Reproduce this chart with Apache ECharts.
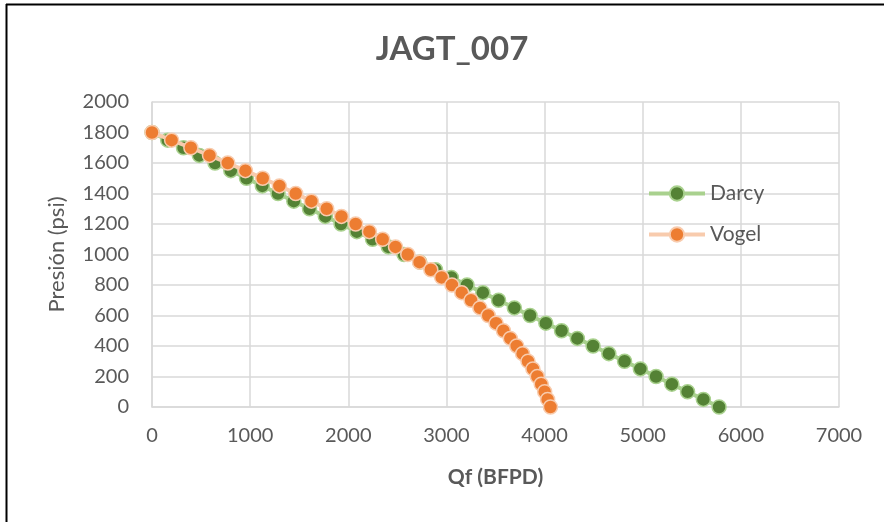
<!DOCTYPE html>
<html>
<head>
<meta charset="utf-8">
<script src="https://cdn.jsdelivr.net/npm/echarts@6/dist/echarts.min.js"></script>
<style>
html,body{margin:0;padding:0;background:#fff;}
#c{width:884px;height:522px;}
</style>
</head>
<body>
<div id="c"></div>
<script>
var titleText = 'JAGT_007';
var xName = 'Qf (BFPD)';
var yName = 'Presión (psi)';
var seriesNames = ['Darcy', 'Vogel'];
var pressure = [1800,1750,1700,1650,1600,1550,1500,1450,1400,1350,1300,1250,1200,1150,1100,1050,1000,950,900,850,800,750,700,650,600,550,500,450,400,350,300,250,200,150,100,50,0];
var darcyQ = [0,160,321,482,642,803,963,1124,1284,1445,1605,1766,1926,2087,2247,2408,2568,2729,2889,3050,3210,3371,3531,3692,3852,4013,4173,4334,4494,4655,4815,4976,5136,5297,5457,5618,5778];
var vogelQ = [0,200,396,586,772,952,1128,1298,1464,1624,1780,1930,2075,2215,2350,2481,2606,2726,2841,2951,3056,3156,3251,3341,3426,3506,3581,3651,3716,3776,3831,3881,3926,3966,4001,4031,4060];
var xTicks = {min:0, max:7000, interval:1000};
var yTicks = {min:0, max:2000, interval:200};

function pairs(q){ return q.map(function(v,i){ return [v, pressure[i]]; }); }
function plain(v){ return String(v); }

var FONT = 'Lato';
var GRAY = '#595959';
var chart = echarts.init(document.getElementById('c'), null, {renderer:'canvas'});
chart.setOption({
  animation:false,
  backgroundColor:'#ffffff',
  title:{
    text:titleText, left:447, top:28, textAlign:'center',
    textStyle:{fontFamily:FONT, fontSize:33, fontWeight:'bold', color:GRAY}
  },
  graphic:[
    {type:'line', shape:{x1:6, y1:4.5, x2:884, y2:4.5}, style:{stroke:'#000', lineWidth:2}},
    {type:'line', shape:{x1:6.5, y1:4, x2:6.5, y2:522}, style:{stroke:'#000', lineWidth:2}}
  ],
  legend:{
    orient:'vertical', left:647, top:183, padding:0, itemWidth:56, itemHeight:18, itemGap:20,
    textStyle:{fontFamily:FONT, fontSize:21, color:GRAY},
    lineStyle:{width:4},
    data:seriesNames
  },
  grid:{left:152, right:45, top:102, bottom:115, containLabel:false},
  xAxis:{
    type:'value', min:xTicks.min, max:xTicks.max, interval:xTicks.interval,
    name:xName, nameLocation:'middle', nameGap:60,
    nameTextStyle:{fontFamily:FONT, fontSize:21, fontWeight:'bold', color:GRAY},
    axisLine:{show:true, lineStyle:{color:'#d9d9d9', width:1.5}},
    axisTick:{show:false},
    axisLabel:{fontFamily:FONT, fontSize:20, color:GRAY, margin:19, formatter:plain},
    splitLine:{show:true, lineStyle:{color:'#d9d9d9', width:1.5}}
  },
  yAxis:{
    type:'value', min:yTicks.min, max:yTicks.max, interval:yTicks.interval,
    name:yName, nameLocation:'middle', nameGap:84, nameRotate:90,
    nameTextStyle:{fontFamily:FONT, fontSize:22, color:GRAY},
    axisLine:{show:true, lineStyle:{color:'#d9d9d9', width:1.5}},
    axisTick:{show:false},
    axisLabel:{fontFamily:FONT, fontSize:20, color:GRAY, margin:23, formatter:plain},
    splitLine:{show:true, lineStyle:{color:'#d9d9d9', width:1.5}}
  },
  series:[
    {
      name:seriesNames[0], type:'line', data:pairs(darcyQ),
      symbol:'circle', symbolSize:14,
      lineStyle:{color:'#a9d18e', width:4},
      itemStyle:{color:'#548235', borderColor:'#a9d18e', borderWidth:1.5},
      z:2
    },
    {
      name:seriesNames[1], type:'line', data:pairs(vogelQ),
      symbol:'circle', symbolSize:14,
      lineStyle:{color:'#f8cbad', width:4},
      itemStyle:{color:'#ed7d31', borderColor:'#f8cbad', borderWidth:1.5},
      z:3
    }
  ]
});
</script>
</body>
</html>
